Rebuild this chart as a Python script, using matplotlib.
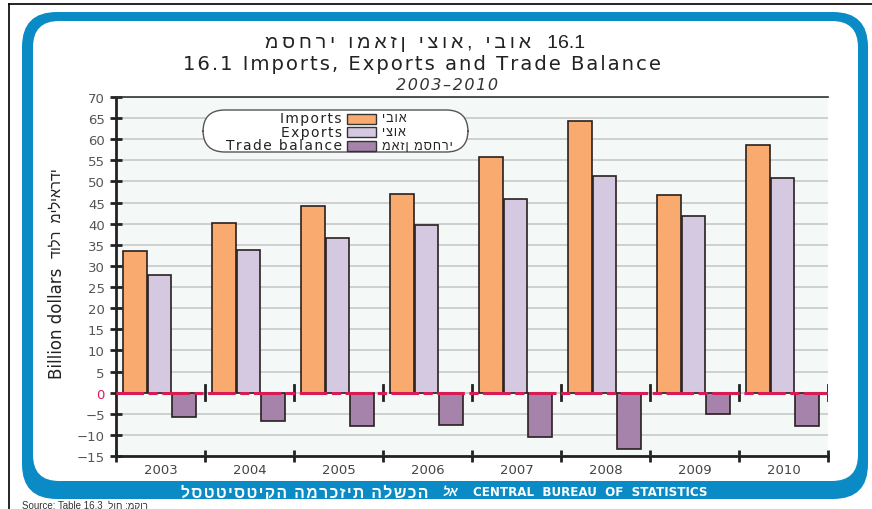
import matplotlib.pyplot as plt
import numpy as np
from matplotlib.patches import FancyBboxPatch, Rectangle

# Data (billion dollars)
years = ['2003', '2004', '2005', '2006', '2007', '2008', '2009', '2010']
imports = [33.5, 40.2, 44.3, 47.1, 55.9, 64.3, 46.7, 58.6]
exports = [27.8, 33.7, 36.5, 39.6, 45.8, 51.2, 41.9, 50.8]
trade_balance = [-5.8, -6.6, -8.0, -7.7, -10.4, -13.4, -5.0, -8.0]

series_en = ['Imports', 'Exports', 'Trade balance']
series_he = ['יבוא', 'יצוא', 'מאזן מסחרי']
colors = ['#f9aa6e', '#d5c9e1', '#a683aa']

W, H = 872, 510
BLUE = '#0b8bc5'
HEB = ['Liberation Sans', 'DejaVu Sans']


def spaced(s, sp='\u200a'):
    # wide letter spacing like the original print
    return sp.join(s)


def px(x, y):
    return x / W, 1 - y / H


fig = plt.figure(figsize=(W / 100, H / 100), dpi=100)
fig.patch.set_facecolor('white')

# page lines
fig.add_artist(plt.Line2D([9 / W, 1], [1 - 5 / H] * 2, color='black', lw=1.2,
                          zorder=-3))
fig.add_artist(plt.Line2D([9 / W] * 2, [0, 1 - 5 / H], color='black', lw=1.2,
                          zorder=-3))

# blue frame
x0, y0 = px(22, 500)
x1, y1 = px(868, 13)
fig.add_artist(FancyBboxPatch((x0, y0), x1 - x0, y1 - y0,
                              boxstyle='round,pad=0,rounding_size=0.04',
                              transform=fig.transFigure, fc=BLUE, ec='none',
                              mutation_aspect=W / H, zorder=-2))
x0, y0 = px(33, 482)
x1, y1 = px(858, 22)
fig.add_artist(FancyBboxPatch((x0, y0), x1 - x0, y1 - y0,
                              boxstyle='round,pad=0,rounding_size=0.03',
                              transform=fig.transFigure, fc='white', ec='none',
                              mutation_aspect=W / H, zorder=-1))

# titles
fig.text(*px(425, 43), spaced('מסחרי ומאזן יצוא, יבוא', '\u2009') + '   16.1',
         ha='center', va='center', fontsize=14, family=HEB, color='#222222')
fig.text(*px(422, 64), spaced('16.1 Imports, Exports and Trade Balance'),
         ha='center', va='center', fontsize=14.1, color='#222222')
fig.text(*px(447, 86), spaced('2003\u20132010'), ha='center', va='center',
         fontsize=11.5, style='italic', color='#333333')

# axes
ax = fig.add_axes([116 / W, 1 - 457 / H, (828 - 116) / W, (457 - 98) / H])
ax.set_facecolor('#f4f8f7')

x = np.arange(len(years))
bw = 0.265
offsets = [-0.285, -0.01, 0.265]
for vals, off, c in zip([imports, exports, trade_balance], offsets, colors):
    ax.bar(x + off, vals, width=bw, color=c, edgecolor='#2a2020',
           linewidth=1.2, zorder=3)

ax.set_ylim(-15, 70)
ax.set_xlim(-0.5, len(years) - 0.5)
ax.set_yticks(np.arange(-15, 71, 5))
ax.set_yticklabels([str(v).replace('-', '\u2212') for v in range(-15, 71, 5)],
                   fontsize=9.5, color='#555555')
ax.get_yticklabels()[3].set_color('#d81b55')
ax.yaxis.grid(True, color='#c9c9c9', lw=1.2, zorder=0)
ax.tick_params(axis='y', direction='inout', length=9, width=2, color='#222222')

# category boundaries
bounds = np.arange(-0.5, len(years), 1.0)
ax.set_xticks(bounds)
ax.set_xticklabels([])
ax.set_xticks(x, minor=True)
ax.set_xticklabels(years, minor=True, fontsize=9.5, color='#444444')
ax.tick_params(axis='x', which='major', direction='inout', length=9, width=2,
               color='#222222')
ax.tick_params(axis='x', which='minor', length=0, pad=5)

for b in bounds[1:]:
    ax.plot([b, b], [-1.7, 1.7], color='#222222', lw=2, zorder=4)
ax.axhline(0, color='#d81b55', lw=2.2, dashes=(9, 1.5, 3, 1.5), zorder=5)

ax.spines['right'].set_visible(False)
ax.spines['top'].set_color('#333333')
ax.spines['top'].set_linewidth(1.2)
for s in ['left', 'bottom']:
    ax.spines[s].set_linewidth(2)
    ax.spines[s].set_color('#222222')

# y labels
fig.text(*px(57, 323), 'Billion dollars', rotation=90, ha='center',
         va='center', fontsize=12, color='#222222')
fig.text(*px(57, 213), 'דולר  מיליארדי', rotation=90, ha='center',
         va='center', fontsize=10.5, family=HEB, color='#222222')

# legend
lx0, ly0 = px(203, 153)
lx1, ly1 = px(468, 111)
fig.add_artist(FancyBboxPatch((lx0, ly0), lx1 - lx0, ly1 - ly0,
                              boxstyle='round,pad=0,rounding_size=0.025',
                              transform=fig.transFigure, fc='white',
                              ec='#555555', lw=1, mutation_aspect=W / H,
                              zorder=5))
for i, (en, he, c) in enumerate(zip(series_en, series_he, colors)):
    yy = 119.5 + i * 13.5
    fig.text(*px(342, yy), spaced(en), ha='right',
             va='center', fontsize=10, color='#222222', zorder=6)
    sx, sy = px(347, yy + 5)
    fig.add_artist(Rectangle((sx, sy), 29 / W, 10 / H, fc=c, ec='#333333',
                             lw=1, transform=fig.transFigure, zorder=6))
    fig.text(*px(382, yy), spaced(he), ha='left', va='center', fontsize=9,
             family=HEB, color='#222222', zorder=6)

# bottom band text
fig.text(*px(590, 493), 'CENTRAL  BUREAU  OF  STATISTICS', ha='center',
         va='center', fontsize=8.6, weight='bold', color='white')
fig.text(*px(305, 493), spaced('לסטטיסטיקה המרכזית הלשכה'), ha='center',
         va='center', fontsize=11.3, weight='bold', family=HEB, color='white')
fig.text(*px(450, 493), 'לא', ha='center', va='center', fontsize=9,
         weight='bold', family=HEB, color='white', style='italic')

# source line
fig.text(*px(22, 506), 'Source: Table 16.3  לוח :מקור',
         ha='left', va='center', fontsize=7, family=HEB, color='#333333')

fig.savefig('out.png', dpi=100)
